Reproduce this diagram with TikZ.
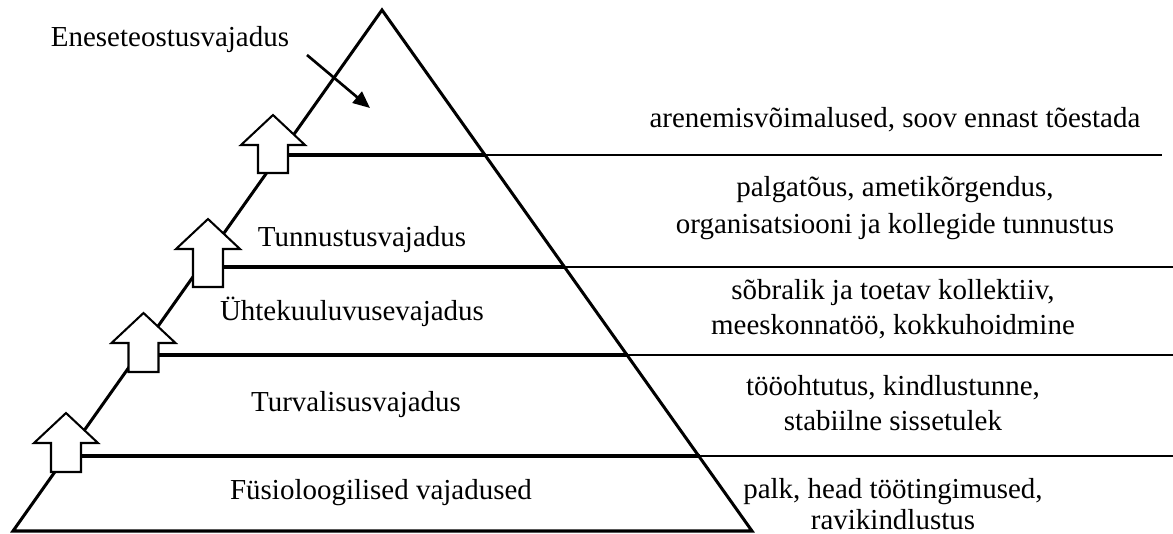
\documentclass[tikz,border=0pt,12pt]{standalone}
\usepackage{fontspec}
\setmainfont{Liberation Serif}
\usetikzlibrary{arrows.meta}
% block arrow: centre x, tip y, head base y, bottom y
\newcommand{\UpArrow}[4]{\draw[blockarrow] (#1,#2) -- (#1+32,#3) -- (#1+15,#3) -- (#1+15,#4) -- (#1-15,#4) -- (#1-15,#3) -- (#1-32,#3) -- cycle;}

\begin{document}
\begin{tikzpicture}[x=0.01455cm, y=-0.01455cm,
  thickline/.style = {line width=1.25pt},
  thinline/.style = {line width=0.75pt},
  blockarrow/.style = {draw, fill=white, line width=0.85pt},
  label/.style = {align=center, inner sep=1pt}]

\useasboundingbox (0,0) rectangle (1173,533);

% pyramid
\coordinate (apex) at (382,10);
\coordinate (bl) at (13,531);
\coordinate (br) at (752,531);
\draw[thickline, line join=miter] (apex) -- (br) -- (bl) -- cycle;

% levels
\coordinate (L4) at (288,155);
\coordinate (R4) at (485,155);
\coordinate (E4) at (1162,155);
\coordinate (L3) at (224,267);
\coordinate (R3) at (565,267);
\coordinate (E3) at (1173,267);
\coordinate (L2) at (158,355);
\coordinate (R2) at (628,355);
\coordinate (E2) at (1173,355);
\coordinate (L1) at (81,456);
\coordinate (R1) at (700,456);
\coordinate (E1) at (1173,456);

\draw[thickline] (L4) -- (R4);
\draw[thinline] (R4) -- (E4);
\draw[thickline] (L3) -- (R3);
\draw[thinline] (R3) -- (E3);
\draw[thickline] (L2) -- (R2);
\draw[thinline] (R2) -- (E2);
\draw[thickline] (L1) -- (R1);
\draw[thinline] (R1) -- (E1);

% arrows on the left side
\UpArrow{66}{413}{443}{472}
\UpArrow{143.5}{313}{343}{372}
\UpArrow{208}{219}{249}{287}
\UpArrow{273}{115}{145}{173}

% level names
\node[label] (top) at (170,40) {Eneseteostusvajadus};
\coordinate (topin) at (370,108);
\draw[line width=1.1pt, -{Triangle[length=7pt, width=6pt]}] (307,55) -- (topin);

\node[label] (n4) at (362,240) {Tunnustusvajadus};
\node[label] (n3) at (352,312) {Ühtekuuluvusevajadus};
\node[label] (n2) at (356,405) {Turvalisusvajadus};
\node[label] (n1) at (381,493) {Füsioloogilised vajadused};

% examples
\node[label] (d5) at (895,120) {arenemisvõimalused, soov ennast tõestada};
\node[label] (d4) at (895,208) {palgatõus, ametikõrgendus,\\[1pt]organisatsiooni ja kollegide tunnustus};
\node[label] (d3) at (893,309) {sõbralik ja toetav kollektiiv,\\meeskonnatöö, kokkuhoidmine};
\node[label] (d2) at (893,403) {tööohtutus, kindlustunne,\\stabiilne sissetulek};
\node[label, inner sep=0pt] (d1) at (893,504) {palk, head töötingimused,\\[-1.5pt]ravikindlustus};

\end{tikzpicture}
\end{document}
